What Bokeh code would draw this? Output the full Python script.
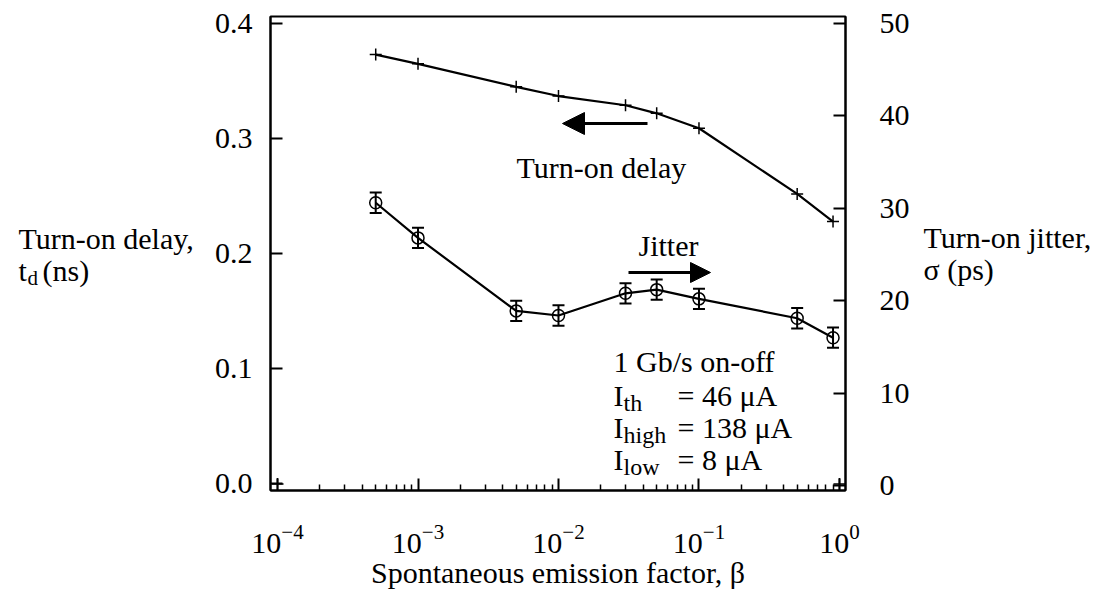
from bokeh.plotting import figure
from bokeh.layouts import row
from bokeh.models import (Range1d, LinearAxis, FixedTicker, PrintfTickFormatter, Label,
                          Arrow, NormalHead, Whisker, TeeHead, ColumnDataSource)
from bokeh.core.properties import value
from bokeh.embed import file_html
from bokeh.resources import INLINE

# ---- data ----
beta = [5e-4, 1e-3, 5e-3, 1e-2, 3e-2, 5e-2, 1e-1, 5e-1, 0.9]
delay_ns = [0.373, 0.365, 0.345, 0.337, 0.329, 0.322, 0.309, 0.252, 0.228]
jitter_ps = [30.6, 26.8, 18.9, 18.4, 20.8, 21.2, 20.2, 18.1, 16.0]
jitter_err = [1.1, 1.1, 1.1, 1.1, 1.1, 1.1, 1.1, 1.1, 1.1]
corner_beta = [1e-4, 1.0]
corner_delay = [0.0, 0.0]
x_ticks = [1e-4, 1e-3, 1e-2, 1e-1, 1.0]
left_ticks = [0.0, 0.1, 0.2, 0.3, 0.4]
right_ticks = [0, 10, 20, 30, 40, 50]

FONT = "Liberation Serif"
FS = "30px"
H = 592
WL, WR = 205, 191          # side text panels
FL, FT, FB = 270, 16, 490  # main frame left / top / bottom in canvas pixels

p = figure(width=1106 - WL - WR, height=H, x_axis_type="log",
           x_range=Range1d(10 ** -4.05, 10 ** 0.043),
           y_range=Range1d(-0.00565, 0.4061),
           output_backend="svg", toolbar_location=None,
           min_border_left=FL - WL, min_border_right=1106 - WR - 845,
           min_border_top=FT, min_border_bottom=H - FB)
p.extra_y_ranges = {"jitter": Range1d(-0.54, 50.76)}
p.grid.visible = False
p.outline_line_color = "black"
p.outline_line_width = 2

minor = [m * 10 ** e for e in range(-4, 0) for m in range(2, 10)]
p.xaxis.ticker = FixedTicker(ticks=x_ticks, minor_ticks=minor)
p.yaxis.ticker = FixedTicker(ticks=left_ticks)
p.yaxis.formatter = PrintfTickFormatter(format="%.1f")

right = LinearAxis(y_range_name="jitter", ticker=FixedTicker(ticks=right_ticks))
p.add_layout(right, "right")

for ax in [p.xaxis[0], p.yaxis[0], right]:
    ax.axis_line_width = 2
    ax.axis_line_color = "black"
    ax.major_tick_line_width = 2
    ax.major_tick_line_color = "black"
    ax.major_tick_in = 12
    ax.major_tick_out = 0
    ax.minor_tick_in = 0
    ax.minor_tick_out = 0
    ax.major_label_text_font = FONT
    ax.major_label_text_font_size = FS
    ax.major_label_text_color = "black"

p.xaxis.minor_tick_in = 6
p.xaxis.minor_tick_line_width = 1.5
p.xaxis.minor_tick_line_color = "black"
p.xaxis.major_label_standoff = 34
p.xaxis.axis_label = "Spontaneous emission factor, \u03b2"
p.xaxis.axis_label_text_font = FONT
p.xaxis.axis_label_text_font_size = FS
p.xaxis.axis_label_text_font_style = "normal"
p.xaxis.axis_label_text_color = "black"
p.xaxis.axis_label_standoff = 0
p.yaxis[0].major_label_standoff = 18
right.major_label_standoff = 34

# ---- turn-on delay ----
p.line(beta, delay_ns, line_width=2.2, color="black")
p.scatter(beta, delay_ns, marker="cross", size=12, line_width=1.5, color="black")
p.scatter(corner_beta, corner_delay, marker="cross", size=12, line_width=1.5, color="black")

# ---- jitter ----
p.line(beta, jitter_ps, line_width=2.2, color="black", y_range_name="jitter")
p.scatter(beta, jitter_ps, marker="circle", size=12, line_width=1.5,
          line_color="black", fill_color=None, y_range_name="jitter")
src = ColumnDataSource(dict(x=beta,
                            upper=[j + e for j, e in zip(jitter_ps, jitter_err)],
                            lower=[j - e for j, e in zip(jitter_ps, jitter_err)]))
p.add_layout(Whisker(source=src, base="x", upper="upper", lower="lower",
                     y_range_name="jitter", line_width=2, line_color="black",
                     upper_head=TeeHead(size=12, line_width=2, line_color="black"),
                     lower_head=TeeHead(size=12, line_width=2, line_color="black")))


def lab(text, xc, yc, size=FS):
    p.add_layout(Label(x=xc - FL, y=FB - yc, x_units="screen", y_units="screen",
                       text=text, text_font=FONT, text_font_size=size,
                       text_color="black", text_align="left",
                       text_baseline="alphabetic"))


# arrows + in-plot labels
p.add_layout(Arrow(end=NormalHead(size=22, fill_color="black", line_color="black"),
                   x_start=647 - FL, y_start=FB - 123, x_end=562 - FL, y_end=FB - 123,
                   start_units="screen", end_units="screen",
                   line_width=3, line_color="black"))
p.add_layout(Arrow(end=NormalHead(size=20, fill_color="black", line_color="black"),
                   x_start=628 - FL, y_start=FB - 272, x_end=710 - FL, y_end=FB - 272,
                   start_units="screen", end_units="screen",
                   line_width=3, line_color="black"))
lab("Turn-on delay", 516, 167)
lab("Jitter", 638, 245)

lab("1 Gb/s on-off", 613, 361)
lab("I", 613, 395)
lab("th", 623, 402, "24px")
lab("= 46 \u03bcA", 677, 395)
lab("I", 613, 427)
lab("high", 623, 434, "24px")
lab("= 138 \u03bcA", 677, 427)
lab("I", 613, 459)
lab("low", 623, 466, "24px")
lab("= 8 \u03bcA", 677, 459)


# ---- side panels holding the horizontal axis titles ----
# (in a row their frames get aligned with the main frame: canvas rows FT..FB)
def side_panel(width):
    f = figure(width=width, height=H, x_range=Range1d(0, width), y_range=Range1d(FB, FT),
               output_backend="svg", toolbar_location=None,
               min_border_left=0, min_border_right=0, min_border_top=0, min_border_bottom=0)
    f.axis.visible = False
    f.grid.visible = False
    f.outline_line_color = None
    return f


def txt(f, text, xc, yc, size=FS):
    f.text(x=[xc], y=[yc], text=[text], text_font=value(FONT), text_font_size=size,
           text_color="black", text_align="left", text_baseline="alphabetic")


pl = side_panel(WL)
txt(pl, "Turn-on delay,", 18, 238)
txt(pl, "t", 18, 270)
txt(pl, "d", 27, 277, "21px")
txt(pl, "(ns)", 42, 270)

pr = side_panel(WR)
ox = 1106 - WR
txt(pr, "Turn-on jitter,", 923 - ox, 237)
txt(pr, "\u03c3 (ps)", 923 - ox, 269)

layout = row(pl, p, pr, spacing=0)
open("out.html", "w").write(file_html(layout, INLINE))
